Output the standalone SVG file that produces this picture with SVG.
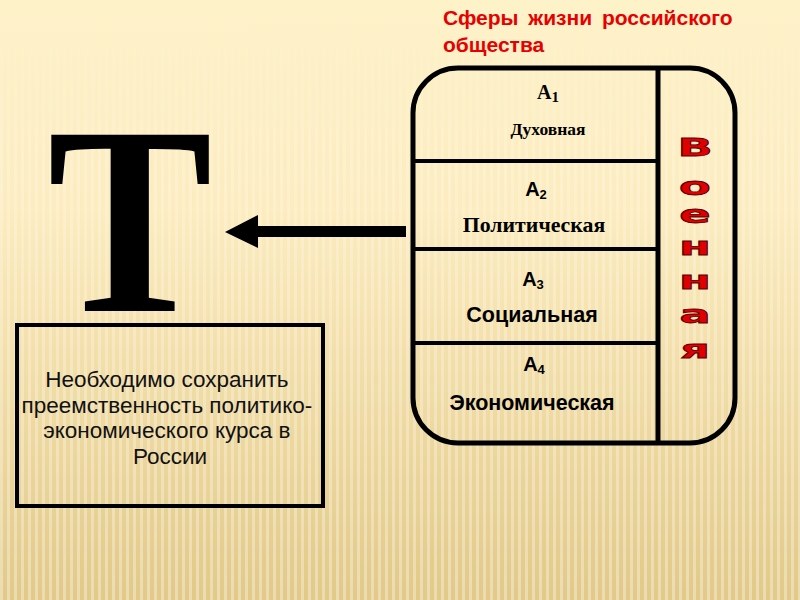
<svg xmlns="http://www.w3.org/2000/svg" width="800" height="600" viewBox="0 0 800 600">
  <defs>
    <linearGradient id="bg" x1="0" y1="0" x2="0" y2="1">
      <stop offset="0" stop-color="#fef2c9"/>
      <stop offset="0.35" stop-color="#fcecbf"/>
      <stop offset="1" stop-color="#e2c988"/>
    </linearGradient>
    <pattern id="stripes" width="7" height="10" patternUnits="userSpaceOnUse">
      <rect x="0" y="0" width="3" height="10" fill="#ffffff" opacity="0.35"/>
    </pattern>
    <linearGradient id="fadeG" x1="0" y1="0" x2="0" y2="1">
      <stop offset="0" stop-color="#fff" stop-opacity="0"/>
      <stop offset="0.25" stop-color="#fff" stop-opacity="0.6"/>
      <stop offset="1" stop-color="#fff" stop-opacity="1"/>
    </linearGradient>
    <mask id="fade">
      <rect x="0" y="0" width="800" height="600" fill="url(#fadeG)"/>
    </mask>
    <style>
      .sans { font-family: "Liberation Sans", Arial, sans-serif; }
      .serif { font-family: "Liberation Serif", "Times New Roman", serif; }
      .lbl { font-weight: bold; fill: #000; text-anchor: middle; }
      .mil { font-family: "DejaVu Sans", sans-serif; font-weight: bold; font-size: 25px; fill: #e00000; stroke: #5a0000; stroke-width: 0.8; text-anchor: middle; }
      .frame { fill: none; stroke: #000; stroke-width: 5; }
    </style>
  </defs>

  <rect x="0" y="0" width="800" height="600" fill="url(#bg)"/>
  <rect x="0" y="0" width="800" height="600" fill="url(#stripes)" mask="url(#fade)"/>

  <g id="title">
    <text class="sans" x="443" y="25" font-size="21" font-weight="bold" fill="#e60000" word-spacing="4">Сферы жизни российского</text>
    <text class="sans" x="443" y="52" font-size="21" font-weight="bold" fill="#e60000">общества</text>
  </g>

  <g id="big-T">
    <text class="serif" x="130" y="311" font-size="269" font-weight="bold" text-anchor="middle" transform="translate(130,0) scale(0.92,1) translate(-130,0)">Т</text>
  </g>

  <g id="spheres">
    <path class="frame" d="M458,68 H690 A45,45 0 0 1 735,113 V398 A45,45 0 0 1 690,443 H458 A45,45 0 0 1 413,398 V113 A45,45 0 0 1 458,68 Z"/>
    <line x1="658" y1="68" x2="658" y2="443" stroke="#000" stroke-width="5"/>
    <line x1="413" y1="161" x2="658" y2="161" stroke="#000" stroke-width="4"/>
    <line x1="413" y1="249" x2="658" y2="249" stroke="#000" stroke-width="4"/>
    <line x1="413" y1="343" x2="658" y2="343" stroke="#000" stroke-width="4"/>
  </g>

  <g id="a1">
    <text class="serif lbl" x="548" y="99" font-size="20">A<tspan font-size="15" dy="3">1</tspan></text>
    <text class="serif lbl" x="548" y="135" font-size="17.5">Духовная</text>
  </g>
  <g id="a2">
    <text class="sans lbl" x="536" y="196" font-size="20">A<tspan font-size="13" dy="3">2</tspan></text>
    <text class="serif lbl" x="534" y="232" font-size="21.8">Политическая</text>
  </g>
  <g id="a3">
    <text class="sans lbl" x="533" y="286" font-size="20">A<tspan font-size="13" dy="3">3</tspan></text>
    <text class="sans lbl" x="532" y="322" font-size="21.5">Социальная</text>
  </g>
  <g id="a4">
    <text class="sans lbl" x="534" y="371" font-size="20">A<tspan font-size="13" dy="3">4</tspan></text>
    <text class="sans lbl" x="532" y="410" font-size="21.5">Экономическая</text>
  </g>

  <g id="military" transform="translate(695,0) scale(1.85,1)">
    <text class="mil" x="0" y="156">В</text>
    <text class="mil" x="0" y="195">о</text>
    <text class="mil" x="0" y="223">е</text>
    <text class="mil" x="0" y="255">н</text>
    <text class="mil" x="0" y="289">н</text>
    <text class="mil" x="0" y="323">а</text>
    <text class="mil" x="0" y="358">я</text>
  </g>

  <g id="conclusion">
    <rect x="17" y="325" width="306" height="181" fill="none" stroke="#000" stroke-width="4"/>
    <text class="sans" font-size="22.5" text-anchor="middle" fill="#111">
      <tspan x="170" y="387">Необходимо сохранить</tspan>
      <tspan x="170" y="412.5">преемственность политико-</tspan>
      <tspan x="170" y="438">экономического курса в</tspan>
      <tspan x="170" y="464">России</tspan>
    </text>
  </g>

  <g id="connectors">
    <rect x="255" y="226" width="151" height="11" fill="#000"/>
    <polygon points="225,232 258,215 258,248" fill="#000"/>
  </g>
</svg>
